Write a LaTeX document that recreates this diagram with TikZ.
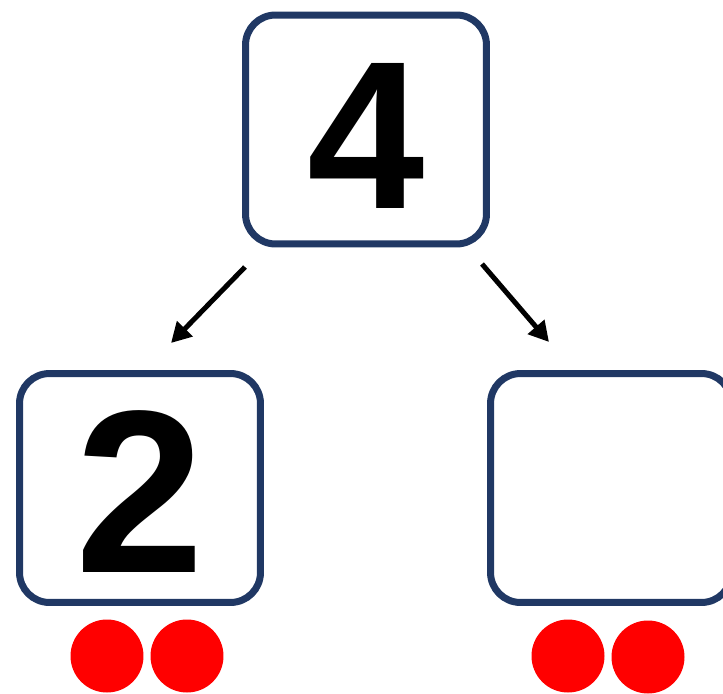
\documentclass[tikz,border=0pt]{standalone}
\usepackage{fontspec}
\setmainfont{Liberation Sans}
\usetikzlibrary{arrows.meta}
\definecolor{boxblue}{RGB}{32,56,100}
\tikzset{numbox/.style={draw=boxblue,line width=0.14cm,rounded corners=0.6cm,
    minimum width=4.82cm,minimum height=4.58cm,inner sep=0pt},
  digit/.style={inner sep=0pt,font=\bfseries\fontsize{120pt}{120pt}\selectfont},
  dot/.style={circle,fill=red,minimum size=1.46cm,inner sep=0pt},
  arr/.style={-{Triangle[length=0.4cm,width=0.42cm]},line width=0.1cm}}

\begin{document}
\begin{tikzpicture}[x=0.02cm,y=-0.02cm]
\useasboundingbox (0,0) rectangle (723,693);
 \node[numbox] (top) at (366,129.5) {};
 \node[numbox] (left) at (140,488) {};
 \node[numbox] (right) at (611,488) {};
 \node[digit] (four) at ([yshift=-0.12cm]top.center) {4};
 \node[digit,font=\bfseries\fontsize{132pt}{132pt}\selectfont] (two) at ([yshift=-0.07cm]left.center) {2};

 \coordinate (lfrom) at (245,267);
 \coordinate (lto) at (171,343);
 \coordinate (rfrom) at (482,264);
 \coordinate (rto) at (549,342);
 \draw[arr] (lfrom) -- (lto);
 \draw[arr] (rfrom) -- (rto);

 \node[dot] (ldot1) at (107,656) {};
 \node[dot] (ldot2) at (187,656) {};
 \node[dot] (rdot1) at (568,656) {};
 \node[dot] (rdot2) at (648,657) {};
\end{tikzpicture}
\end{document}
